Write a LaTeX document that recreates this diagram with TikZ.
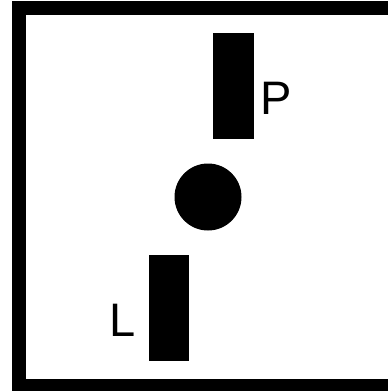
\documentclass[tikz,border=0pt]{standalone}
\usepackage{fontspec}
\setmainfont{Liberation Sans}
\begin{document}
\begin{tikzpicture}[x=1pt,y=-1pt,
  bar/.style={fill=black},
  lbl/.style={inner sep=0pt,anchor=base west,font=\fontsize{47}{50}\selectfont}]
\useasboundingbox (0,0) rectangle (388,391);
\begin{scope}
\clip (0,0) rectangle (388,391);
\draw[line width=14pt] (19,8) rectangle (410,386);
\end{scope}
\fill[bar] (213,33) rectangle (254,139);
\fill[bar] (149,255) rectangle (189,361);
\fill (208,197) circle (33.5);
\node[lbl] (P) at (260.5,114) {P};
\node[lbl] (L) at (109.5,336) {L};
\end{tikzpicture}
\end{document}
